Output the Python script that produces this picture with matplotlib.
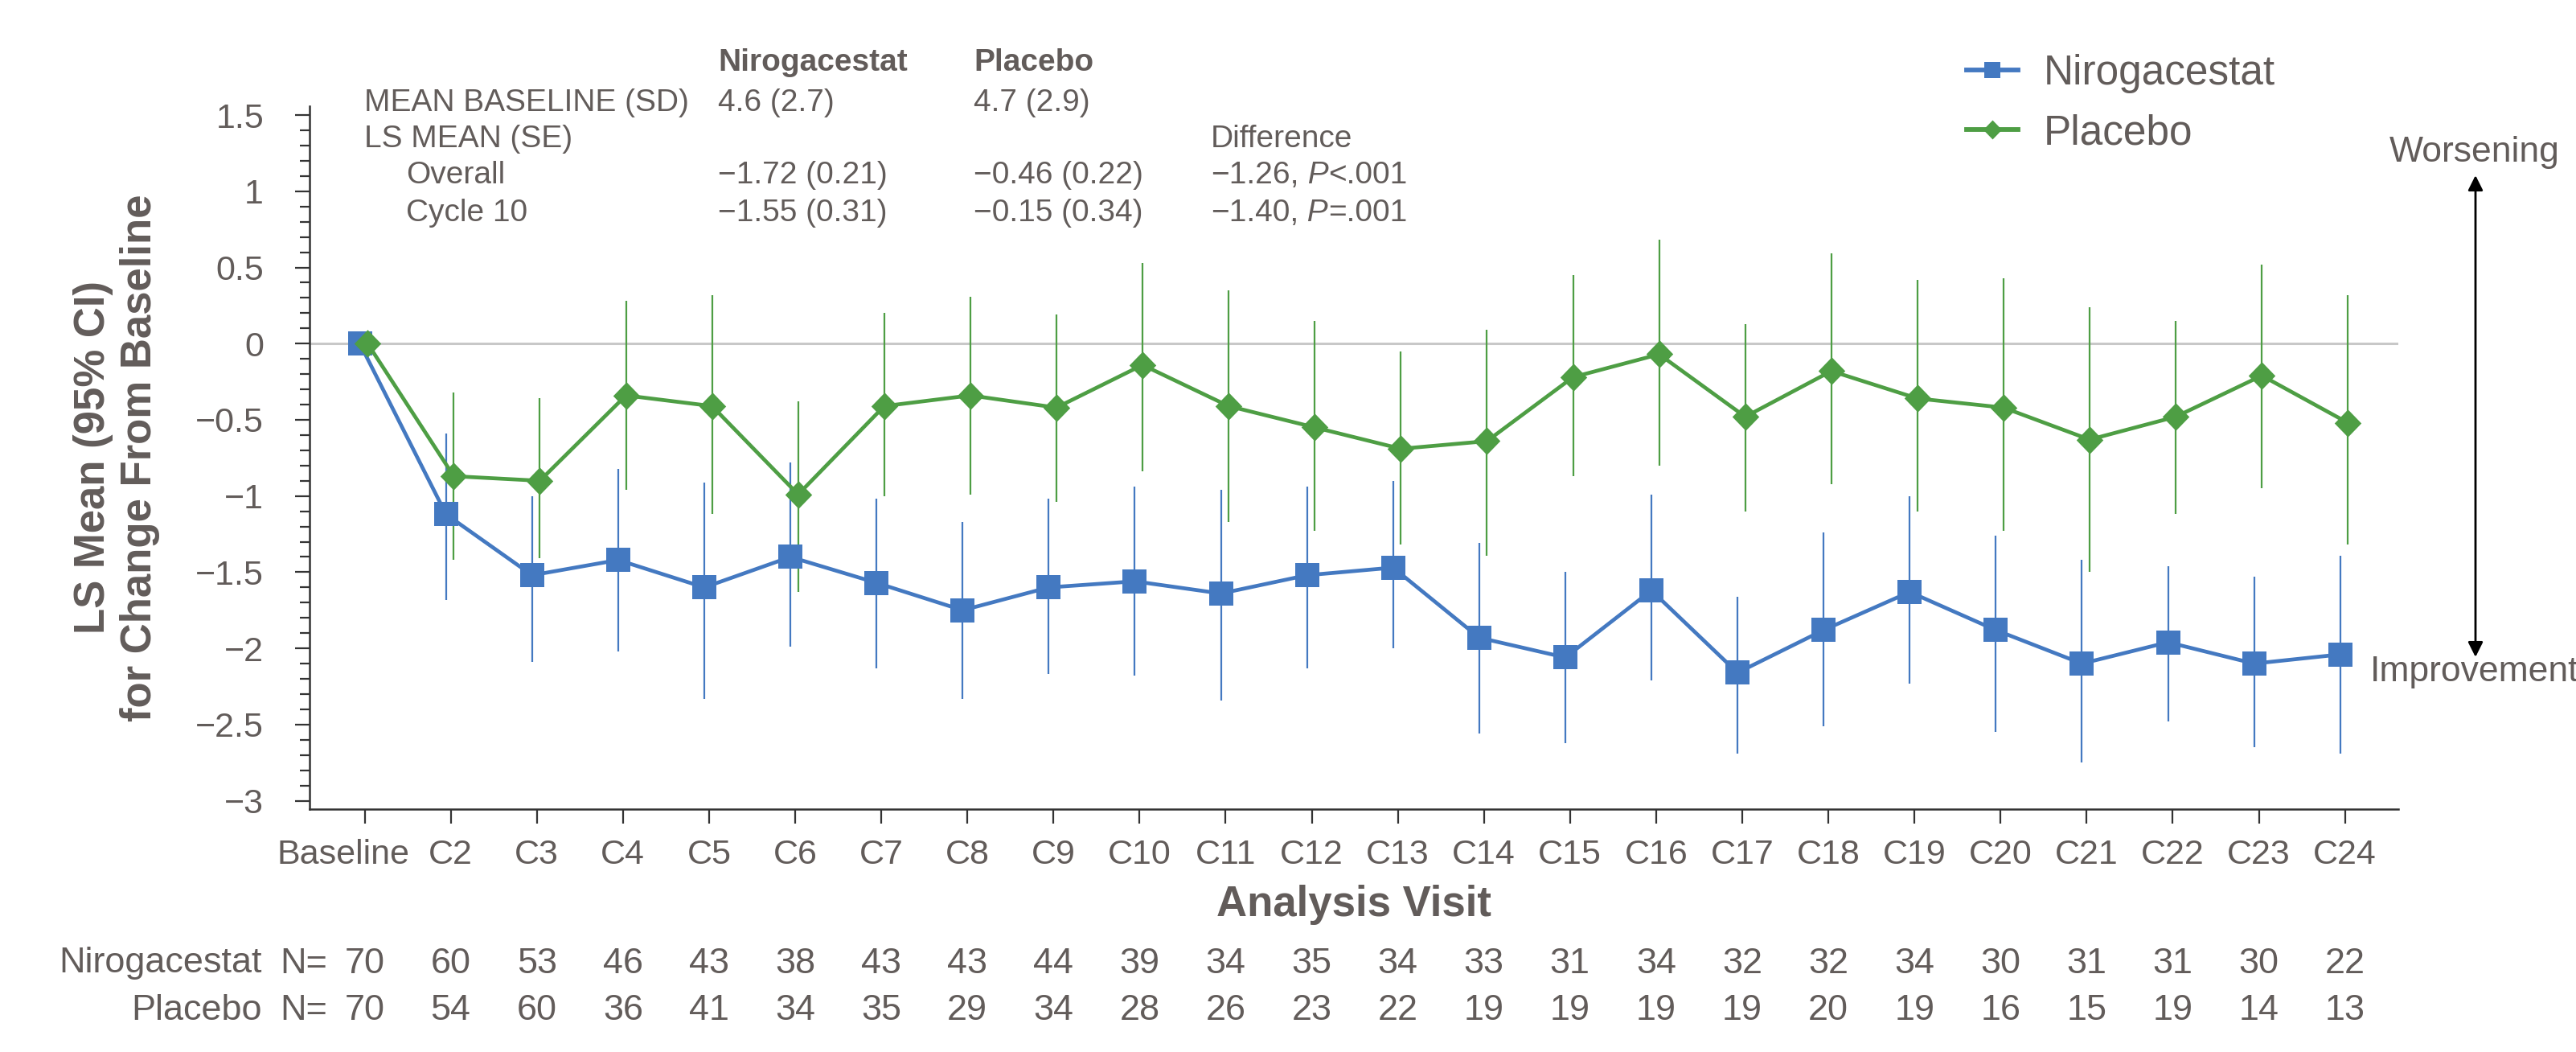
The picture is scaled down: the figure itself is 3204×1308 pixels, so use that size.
import matplotlib
matplotlib.use('Agg')
import matplotlib.pyplot as plt
from matplotlib.ticker import MultipleLocator, FuncFormatter
from matplotlib.transforms import blended_transform_factory, ScaledTranslation
from matplotlib.lines import Line2D
from matplotlib.path import Path
import numpy as np

plt.rcParams['font.family'] = ['Liberation Sans', 'DejaVu Sans']

# Data
visits = ['Baseline', 'C2', 'C3', 'C4', 'C5', 'C6', 'C7', 'C8', 'C9', 'C10', 'C11', 'C12',
          'C13', 'C14', 'C15', 'C16', 'C17', 'C18', 'C19', 'C20', 'C21', 'C22', 'C23', 'C24']

niro_mean = [0, -1.12, -1.52, -1.42, -1.60, -1.40, -1.57, -1.75, -1.60, -1.56, -1.64, -1.52,
             -1.47, -1.93, -2.06, -1.62, -2.16, -1.88, -1.63, -1.88, -2.10, -1.96, -2.10, -2.04]
niro_lo = [0, -1.68, -2.09, -2.02, -2.33, -1.99, -2.13, -2.33, -2.17, -2.18, -2.34, -2.13,
           -2.00, -2.56, -2.62, -2.21, -2.69, -2.51, -2.23, -2.55, -2.75, -2.48, -2.65, -2.69]
niro_hi = [0, -0.59, -1.00, -0.82, -0.91, -0.78, -1.02, -1.17, -1.02, -0.94, -0.96, -0.94,
           -0.90, -1.31, -1.50, -0.99, -1.66, -1.24, -1.00, -1.26, -1.42, -1.46, -1.53, -1.39]

plac_mean = [0, -0.87, -0.90, -0.34, -0.41, -0.99, -0.41, -0.34, -0.42, -0.14, -0.41, -0.55,
             -0.69, -0.64, -0.22, -0.07, -0.48, -0.18, -0.36, -0.42, -0.63, -0.48, -0.21, -0.52]
plac_lo = [0, -1.42, -1.41, -0.96, -1.12, -1.63, -1.00, -0.99, -1.04, -0.84, -1.17, -1.23,
           -1.32, -1.39, -0.87, -0.80, -1.10, -0.92, -1.10, -1.23, -1.50, -1.12, -0.95, -1.32]
plac_hi = [0, -0.32, -0.36, 0.28, 0.32, -0.38, 0.20, 0.31, 0.19, 0.53, 0.35, 0.15,
           -0.05, 0.09, 0.45, 0.68, 0.13, 0.59, 0.42, 0.43, 0.24, 0.15, 0.52, 0.32]

niro_n = [70, 60, 53, 46, 43, 38, 43, 43, 44, 39, 34, 35, 34, 33, 31, 34, 32, 32, 34, 30, 31, 31, 30, 22]
plac_n = [70, 54, 60, 36, 41, 34, 35, 29, 34, 28, 26, 23, 22, 19, 19, 19, 19, 20, 19, 16, 15, 19, 14, 13]

# summary table at the top
tbl_rows = ['MEAN BASELINE (SD)', 'LS MEAN (SE)', 'Overall', 'Cycle 10']
tbl_niro = ['4.6 (2.7)', '', '\u22121.72 (0.21)', '\u22121.55 (0.31)']
tbl_plac = ['4.7 (2.9)', '', '\u22120.46 (0.22)', '\u22120.15 (0.34)']
tbl_diff = [None, 'Difference', ('\u22121.26,', '<.001'), ('\u22121.40,', '=.001')]

W, H = 3204, 1308
TXT = '#625c5a'
BLUE = '#4479c1'
GREEN = '#4e9e44'
AX = '#333333'


def fp(px, py):
    return px / W, 1 - py / H


fig = plt.figure(figsize=(W / 200, H / 200), dpi=200)
ax = fig.add_axes([385 / W, 1 - 1006 / H, (2983 - 385) / W, (1006 - 131.7) / H])

x = np.arange(len(visits))
xb = x - 0.055
xg = x + 0.035

ax.axhline(0, color='#c8c8c8', lw=1.1, zorder=1)

ax.vlines(xb, niro_lo, niro_hi, color=BLUE, lw=0.8, zorder=2)
ax.vlines(xg, plac_lo, plac_hi, color=GREEN, lw=0.8, zorder=3)

diamond = Path([(0, 1), (0.97, 0), (0, -1), (-0.97, 0), (0, 1)],
               [Path.MOVETO, Path.LINETO, Path.LINETO, Path.LINETO, Path.CLOSEPOLY])
ax.plot(xb, niro_mean, color=BLUE, lw=1.7, marker='s', ms=10.5, mew=0, zorder=4)
ax.plot(xg, plac_mean, color=GREEN, lw=1.7, marker=diamond, ms=12.4, mew=0, zorder=5)

# axes
ax.set_xlim(-0.64, 23.62)
ax.set_ylim(-3.055, 1.56)
ax.set_xticks(x)
ax.set_xticklabels(visits)
ax.yaxis.set_major_locator(MultipleLocator(0.5))
ax.yaxis.set_minor_locator(MultipleLocator(0.1))
ax.yaxis.set_major_formatter(FuncFormatter(lambda v, p: f'{v:g}'.replace('-', '\u2212')))
ax.tick_params(axis='both', which='major', length=6.5, width=0.8, color=AX,
               labelcolor=TXT, labelsize=15.5)
ax.tick_params(axis='y', which='major', pad=14)
ax.tick_params(axis='y', which='minor', length=4.2, width=0.8, color=AX)
ax.tick_params(axis='x', pad=7)
for s in ['top', 'right']:
    ax.spines[s].set_visible(False)
for s in ['left', 'bottom']:
    ax.spines[s].set_color(AX)
    ax.spines[s].set_linewidth(0.9)

# the "Baseline" label sits a little left of its tick
lab0 = ax.get_xticklabels()[0]
lab0.set_transform(lab0.get_transform() + ScaledTranslation(-27 / 200, 0, fig.dpi_scale_trans))

ax.set_xlabel('Analysis Visit', fontsize=19, fontweight='bold', color=TXT, labelpad=6)
ax.set_ylabel('LS Mean (95% CI)\nfor Change From Baseline', fontsize=19,
              fontweight='bold', color=TXT, labelpad=16)

# N at risk rows
bt = blended_transform_factory(ax.transData, fig.transFigure)
for yy, name, counts in [(1198, 'Nirogacestat', niro_n), (1257, 'Placebo', plac_n)]:
    yf = 1 - yy / H
    ax.text(-1.19, yf, name, transform=bt, ha='right', va='center', fontsize=16.2, color=TXT)
    ax.text(-0.435, yf, 'N=', transform=bt, ha='right', va='center', fontsize=16.2, color=TXT)
    for i, n in enumerate(counts):
        ax.text(i, yf, str(n), transform=bt, ha='center', va='center', fontsize=16.2, color=TXT)

# summary table
fs = 14
fig.text(*fp(893, 78), 'Nirogacestat', fontsize=fs, fontweight='bold', color=TXT, va='center')
fig.text(*fp(1211, 78), 'Placebo', fontsize=fs, fontweight='bold', color=TXT, va='center')
row_y = [128, 173, 218, 265]
row_x = [453, 453, 505, 505]
for r in range(4):
    y = row_y[r]
    fig.text(*fp(row_x[r], y), tbl_rows[r], fontsize=fs, color=TXT, va='center')
    fig.text(*fp(893, y), tbl_niro[r], fontsize=fs, color=TXT, va='center')
    fig.text(*fp(1211, y), tbl_plac[r], fontsize=fs, color=TXT, va='center')
    d = tbl_diff[r]
    if d is None:
        continue
    if isinstance(d, str):
        fig.text(*fp(1506, y), d, fontsize=fs, color=TXT, va='center')
    else:
        t = fig.text(*fp(1506, y), d[0], fontsize=fs, color=TXT, va='center')
        t = ax.annotate(' P', xy=(1, 0), xycoords=t, va='bottom', ha='left',
                        fontsize=fs, color=TXT, style='italic')
        ax.annotate(d[1], xy=(1, 0), xycoords=t, va='bottom', ha='left',
                    fontsize=fs, color=TXT)

# legend (thicker line, smaller markers than the plot)
h_b = Line2D([], [], color=BLUE, lw=2.1, marker='s', ms=7.1, mew=0)
h_g = Line2D([], [], color=GREEN, lw=2.1, marker=diamond, ms=8.6, mew=0)
leg = fig.legend([h_b, h_g], ['Nirogacestat', 'Placebo'], loc='upper left',
                 bbox_to_anchor=fp(2446, 67), frameon=False, fontsize=18.5,
                 handlelength=1.25, handletextpad=0.62, labelspacing=0.49,
                 borderpad=0, borderaxespad=0)
for t in leg.get_texts():
    t.set_color(TXT)

# worsening / improvement arrow
fig.text(*fp(2972, 190), 'Worsening', fontsize=16, color=TXT, va='center', ha='left')
fig.text(*fp(2948, 835), 'Improvement', fontsize=16, color=TXT, va='center', ha='left')
ax.annotate('', xy=fp(3079, 817), xytext=fp(3079, 218), xycoords='figure fraction',
            textcoords='figure fraction',
            arrowprops=dict(arrowstyle='<|-|>', color='black', lw=1.0, mutation_scale=14,
                            shrinkA=0, shrinkB=0))

fig.savefig('out.png', dpi=200)
